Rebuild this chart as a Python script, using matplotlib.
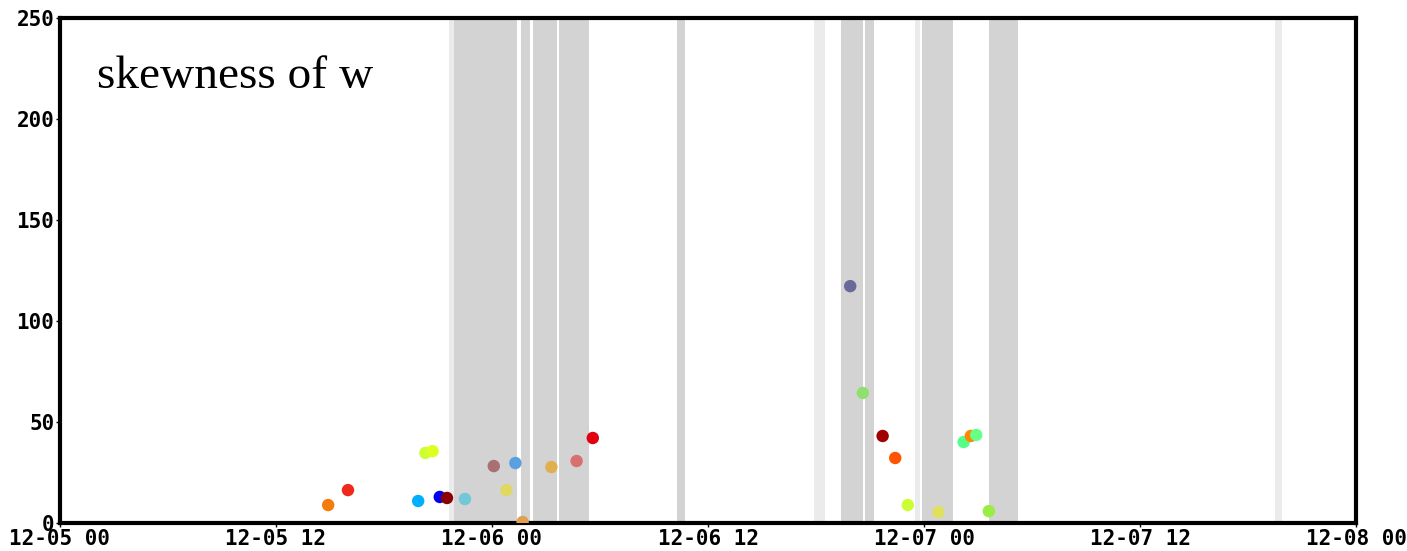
#!/usr/bin/env python3
import pandas as pd
import matplotlib
matplotlib.use('Agg')
import matplotlib.pyplot as plt
import matplotlib.dates as mdates

# points: time, skewness, colour
times = ['2023-12-05 14:54', '2023-12-05 16:00', '2023-12-05 19:54', '2023-12-05 20:18',
         '2023-12-05 20:42', '2023-12-05 21:06', '2023-12-05 21:30', '2023-12-05 22:30',
         '2023-12-06 00:06', '2023-12-06 00:48', '2023-12-06 01:18', '2023-12-06 01:42',
         '2023-12-06 03:18', '2023-12-06 04:42', '2023-12-06 05:36', '2023-12-06 19:54',
         '2023-12-06 20:36', '2023-12-06 21:42', '2023-12-06 22:24', '2023-12-06 23:06',
         '2023-12-07 00:48', '2023-12-07 02:12', '2023-12-07 02:36', '2023-12-07 02:54',
         '2023-12-07 03:36']
values = [8.9, 16.3, 10.9, 34.7, 35.6, 12.9, 12.4, 11.9, 28.2, 16.3, 29.7, 0.5,
          27.7, 30.7, 42.1, 117.3, 64.4, 43.1, 32.2, 8.9, 5.4, 40.1, 43.1, 43.6, 5.9]
colors = ['#f57c0a', '#ee2a1a', '#00b0ff', '#ccff33', '#ddff22', '#0000ee', '#8b0000',
          '#70c8d8', '#a87070', '#e0d860', '#5aa0e0', '#e0a050', '#e0b050', '#d87070',
          '#e00010', '#6a6a9a', '#90e070', '#a00000', '#ff5500', '#ccff33', '#e0e060',
          '#55ff88', '#ff8800', '#66ff88', '#99ee44']

# shaded periods
bands = [('2023-12-05 21:54', '2023-12-06 01:24'), ('2023-12-06 01:36', '2023-12-06 02:06'),
         ('2023-12-06 02:18', '2023-12-06 03:36'), ('2023-12-06 03:42', '2023-12-06 05:24'),
         ('2023-12-06 10:18', '2023-12-06 10:42'), ('2023-12-06 19:24', '2023-12-06 20:36'),
         ('2023-12-06 20:42', '2023-12-06 21:12'), ('2023-12-06 23:54', '2023-12-07 01:36'),
         ('2023-12-07 03:36', '2023-12-07 05:12')]
light_bands = [('2023-12-05 21:36', '2023-12-05 21:54'), ('2023-12-06 17:54', '2023-12-06 18:30'),
               ('2023-12-06 23:30', '2023-12-06 23:48'), ('2023-12-07 19:30', '2023-12-07 19:54')]


def main():
    fig = plt.figure(figsize=(14.07, 5.51), dpi=100)
    ax = fig.add_axes([0.0426, 0.0508, 0.9212, 0.9162])

    for (a, b) in light_bands:
        ax.axvspan(pd.Timestamp(a), pd.Timestamp(b), color='#ebebeb', lw=0, zorder=0)
    for (a, b) in bands:
        ax.axvspan(pd.Timestamp(a), pd.Timestamp(b), color='#d3d3d3', lw=0, zorder=1)

    ax.scatter(pd.to_datetime(times), values, c=colors, s=80, lw=0, zorder=3)

    ax.set_xlim(pd.Timestamp('2023-12-05 00:00'), pd.Timestamp('2023-12-08 00:00'))
    ax.set_ylim(0, 250)
    ax.set_yticks([0, 50, 100, 150, 200, 250])
    ax.xaxis.set_major_locator(mdates.HourLocator(byhour=[0, 12]))
    ax.xaxis.set_major_formatter(mdates.DateFormatter('%m-%d %H'))

    for s in ax.spines.values():
        s.set_linewidth(3)
    ax.tick_params(length=3, width=1, pad=1)
    for lab in ax.get_xticklabels() + ax.get_yticklabels():
        lab.set_family('DejaVu Sans Mono')
        lab.set_fontweight('bold')
        lab.set_fontsize(15)

    ax.text(0.0285, 0.861, 'skewness of w', transform=ax.transAxes,
            family='Liberation Serif', fontsize=34, ha='left', va='baseline')

    fig.savefig('out.png', dpi=100)


if __name__ == '__main__':
    main()
